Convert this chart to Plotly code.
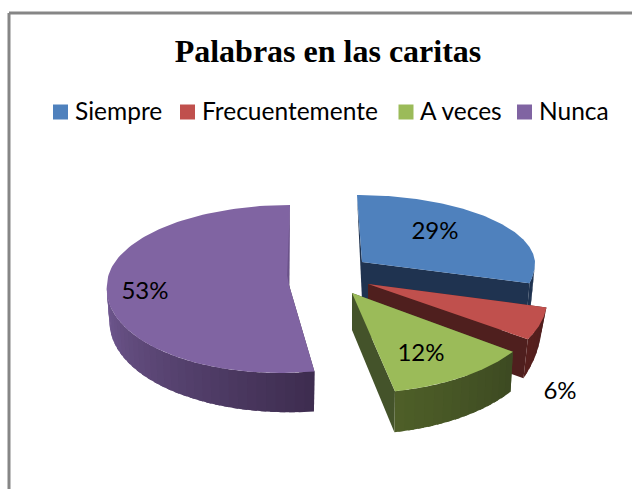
import math
import plotly.graph_objects as go

CATEGORIAS = ["Siempre", "Frecuentemente", "A veces", "Nunca"]
VALORES = [29, 6, 12, 53]

COLOR_TAPA = ["#4f81bd", "#c0504d", "#9bbb59", "#8064a2"]
COLOR_CORTE = ["#1f3350", "#4f1f1e", "#44532a", "#3e2d50"]
COLOR_LADO_A = ["#1f3350", "#4f1f1e", "#3d4a22", "#3e2d50"]
COLOR_LADO_B = ["#1f3350", "#571f1d", "#4f6028", "#735b94"]

# geometria de cada porcion en pixeles de la imagen (perspectiva a ojo)
GEOM = [
    dict(cx=362, cy=262, rx=173, ry_b=67, ry_f=85, sh_b=0.075, sh_f=0.0, esc=0.02, d_a=0, d_b=38, d_c=38),
    dict(cx=368, cy=284, rx=177, ry_b=90, ry_f=94, sh_b=0.0, sh_f=0.30, esc=0.03, d_a=25, d_b=39, d_c=38),
    dict(cx=352, cy=293, rx=194, ry_b=100, ry_f=100, sh_b=0.0, sh_f=0.067, esc=0.015, d_a=40, d_b=41, d_c=37),
    dict(cx=289, cy=285, rx=182, ry_b=80, ry_f=88, sh_b=-0.0125, sh_f=-0.1, esc=0.015, d_a=40, d_b=26, d_c=40),
]
POS_ETIQUETA = [(435, 233), (560, 393), (421, 355), (145, 293)]
POS_LEYENDA = [(60.5, 112), (187.5, 112), (406, 112), (524.5, 112)]
DRAW_ORDER = [3, 0, 1, 2]


def mezcla(c1, c2, t):
    a = [int(c1[i:i + 2], 16) for i in (1, 3, 5)]
    b = [int(c2[i:i + 2], 16) for i in (1, 3, 5)]
    return "rgb({},{},{})".format(*[round(a[i] + (b[i] - a[i]) * t) for i in range(3)])


def punto(g, ang, abajo=False):
    # ang en grados, horario desde arriba
    r = math.radians(ang)
    u = g["rx"] * math.sin(r)
    v = -math.cos(r)
    v = v * (g["ry_b"] if v < 0 else g["ry_f"])
    x = g["cx"] + u + (g["sh_b"] if v < 0 else g["sh_f"]) * v
    if abajo:
        x -= g["esc"] * u
    return x, g["cy"] + v


def poligono(fig, pts, color, ancho=0.0):
    fig.add_trace(go.Scatter(
        x=[p[0] for p in pts] + [pts[0][0]],
        y=[p[1] for p in pts] + [pts[0][1]],
        mode="lines",
        fill="toself",
        fillcolor=color,
        line=dict(color=color, width=ancho),
        hoverinfo="skip",
        showlegend=False,
    ))


def porcion(fig, i, ini, fin):
    g = GEOM[i]
    apex = (g["cx"], g["cy"])
    apex_b = (g["cx"], g["cy"] + g["d_c"])

    def prof(a):
        return g["d_a"] + (g["d_b"] - g["d_a"]) * (a - ini) / (fin - ini)

    def abajo(a):
        x, y = punto(g, a, True)
        return x, y + prof(a)

    # caras de corte
    for a in (ini, fin):
        poligono(fig, [apex, punto(g, a), abajo(a), apex_b], COLOR_CORTE[i])

    # lado curvo en tiras para el degradado, solo la parte de delante
    desde = max(ini, 90)
    tope = min(fin, 270)
    n = max(int((tope - desde) / 3), 5)
    for k in range(n):
        a0 = desde + (tope - desde) * k / n
        # cada tira pisa un poco la siguiente para que no se vean juntas
        a1 = min(desde + (tope - desde) * (k + 1.6) / n, tope)
        arco = [a0 + (a1 - a0) * j / 6 for j in range(7)]
        pts = [punto(g, a) for a in arco] + [abajo(a) for a in reversed(arco)]
        poligono(fig, pts, mezcla(COLOR_LADO_A[i], COLOR_LADO_B[i], k / n))

    # tapa
    arco = [punto(g, ini + (fin - ini) * k / 120) for k in range(121)]
    poligono(fig, [apex] + arco, COLOR_TAPA[i])

    # borde oscuro fino de la porcion grande
    if i == 3:
        rim = punto(g, fin)
        med = (apex[0] + 0.12 * (rim[0] - apex[0]) - 2, apex[1] + 0.12 * (rim[1] - apex[1]))
        poligono(fig, [rim, apex, med], "#6a5289")


fig = go.Figure()

total = sum(VALORES)
acum = [0]
for v in VALORES:
    acum.append(acum[-1] + v)

for i in DRAW_ORDER:
    porcion(fig, i, 360 * acum[i] / total, 360 * acum[i + 1] / total)

# etiquetas de datos
fig.add_trace(go.Scatter(
    x=[p[0] for p in POS_ETIQUETA],
    y=[p[1] for p in POS_ETIQUETA],
    mode="text",
    text=["{}%".format(v) for v in VALORES],
    textposition="middle center",
    textfont=dict(family="Lato", size=24, color="#000000"),
    hoverinfo="skip",
    showlegend=False,
))

# leyenda
fig.add_trace(go.Scatter(
    x=[p[0] for p in POS_LEYENDA],
    y=[p[1] for p in POS_LEYENDA],
    mode="markers",
    marker=dict(symbol="square", size=15, color=COLOR_TAPA),
    hoverinfo="skip",
    showlegend=False,
))
for nombre, p in zip(CATEGORIAS, POS_LEYENDA):
    fig.add_annotation(
        x=p[0] + 12, y=p[1] - 1.5, text=nombre, showarrow=False, xanchor="left",
        font=dict(family="Lato", size=24.5, color="#000000"),
    )

# marco del grafico
fig.add_shape(type="line", x0=9, x1=9, y0=13, y1=489, line=dict(color="#868686", width=3))
fig.add_shape(type="line", x0=9, x1=632, y0=13, y1=13, line=dict(color="#868686", width=3))

fig.update_layout(
    title=dict(
        text="<b>Palabras en las caritas</b>",
        font=dict(family="Liberation Serif", size=32, color="#000000"),
        x=328 / 632, xanchor="center", y=1 - 51 / 489, yanchor="middle",
    ),
    xaxis=dict(range=[0, 632], visible=False),
    yaxis=dict(range=[489, 0], visible=False),
    width=632,
    height=489,
    margin=dict(l=0, r=0, t=0, b=0),
    paper_bgcolor="white",
    plot_bgcolor="white",
    showlegend=False,
)

fig.write_html("out.html", config=dict(displayModeBar=False),
               post_script="document.body.style.margin='0';")
